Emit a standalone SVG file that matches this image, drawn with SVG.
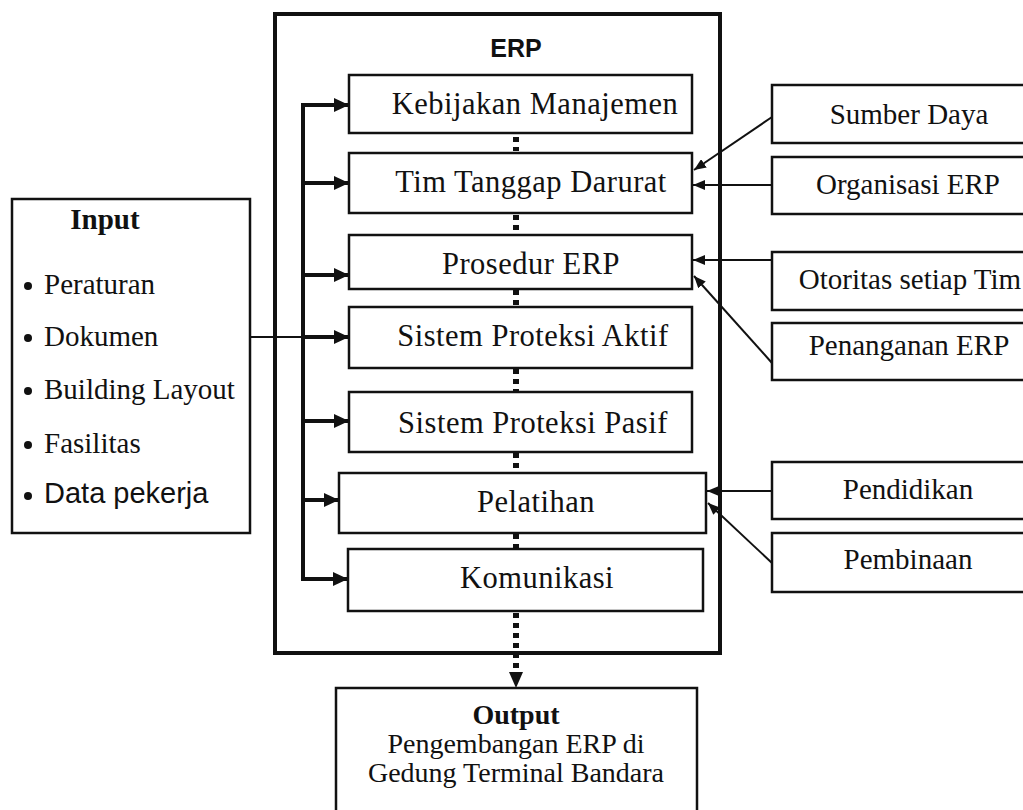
<svg xmlns="http://www.w3.org/2000/svg" width="1023" height="810" viewBox="0 0 1023 810">
  <style>
    .box { fill: #ffffff; stroke: #111111; stroke-width: 2.5; }
    .frame { fill: none; stroke: #111111; stroke-width: 4; }
    .t { font-family: "Liberation Serif", "Times New Roman", serif; font-size: 29px; fill: #111111; }
    .blk { font-size: 30.5px; letter-spacing: 0.5px; }
    .out { font-size: 28px; }
    .c { text-anchor: middle; }
    .b { font-weight: bold; }
    .sans { font-family: "Liberation Sans", Arial, sans-serif; }
    .bus { fill: none; stroke: #111111; stroke-width: 4; }
    .thin { fill: none; stroke: #111111; stroke-width: 2; }
    .dots { fill: none; stroke: #111111; stroke-width: 6; stroke-dasharray: 5 5; }
  </style>
  <defs>
    <marker id="headBig" markerUnits="userSpaceOnUse" markerWidth="15" markerHeight="14" refX="15" refY="7" orient="auto">
      <path d="M0,0 L15,7 L0,14 z" fill="#111111"/>
    </marker>
    <marker id="headSmall" markerUnits="userSpaceOnUse" markerWidth="12" markerHeight="10" refX="12" refY="5" orient="auto">
      <path d="M0,0 L12,5 L0,10 z" fill="#111111"/>
    </marker>
  </defs>

  <rect width="1023" height="810" fill="#ffffff"/>

  <!-- ERP frame -->
  <g id="erp">
    <rect class="frame" x="275" y="14" width="445" height="639"/>
    <text class="sans b c" x="516" y="57" font-size="25" fill="#111111">ERP</text>
  </g>

  <!-- dotted spine between the ERP blocks and down to the output -->
  <g id="connectors">
    <line class="dots" x1="516" y1="137" x2="516" y2="151"/>
    <line class="dots" x1="516" y1="215" x2="516" y2="233"/>
    <line class="dots" x1="516" y1="290" x2="516" y2="306"/>
    <line class="dots" x1="516" y1="369" x2="516" y2="391"/>
    <line class="dots" x1="516" y1="453" x2="516" y2="472"/>
    <line class="dots" x1="516" y1="534" x2="516" y2="548"/>
    <line class="dots" x1="516" y1="613" x2="516" y2="672"/>
    <polygon points="509,672 523,672 516,688" fill="#111111"/>

    <!-- input feed -->
    <line class="thin" x1="250" y1="337" x2="303" y2="337"/>

    <!-- distribution bus -->
    <line class="bus" x1="303" y1="105" x2="303" y2="579"/>
    <line class="bus" x1="301" y1="105" x2="349" y2="105" marker-end="url(#headBig)"/>
    <line class="bus" x1="303" y1="183" x2="349" y2="183" marker-end="url(#headBig)"/>
    <line class="bus" x1="303" y1="275" x2="349" y2="275" marker-end="url(#headBig)"/>
    <line class="bus" x1="303" y1="337" x2="349" y2="337" marker-end="url(#headBig)"/>
    <line class="bus" x1="303" y1="421" x2="349" y2="421" marker-end="url(#headBig)"/>
    <line class="bus" x1="303" y1="500" x2="339" y2="500" marker-end="url(#headBig)"/>
    <line class="bus" x1="301" y1="579" x2="348" y2="579" marker-end="url(#headBig)"/>

    <!-- side inputs -->
    <line class="thin" x1="772" y1="117" x2="694" y2="170" marker-end="url(#headSmall)"/>
    <line class="thin" x1="772" y1="185" x2="693" y2="185" marker-end="url(#headSmall)"/>
    <line class="thin" x1="772" y1="260" x2="693" y2="260" marker-end="url(#headSmall)"/>
    <line class="thin" x1="772" y1="363" x2="694" y2="276" marker-end="url(#headSmall)"/>
    <line class="thin" x1="772" y1="491" x2="707" y2="491" marker-end="url(#headSmall)"/>
    <line class="thin" x1="772" y1="563" x2="708" y2="503" marker-end="url(#headSmall)"/>
  </g>

  <!-- ERP blocks -->
  <g id="kebijakan">
    <rect class="box" x="349" y="75" width="343" height="58"/>
    <text class="t blk c" x="535" y="114">Kebijakan Manajemen</text>
  </g>
  <g id="tim-tanggap">
    <rect class="box" x="349" y="153" width="343" height="60"/>
    <text class="t blk c" x="531" y="192">Tim Tanggap Darurat</text>
  </g>
  <g id="prosedur">
    <rect class="box" x="349" y="235" width="343" height="54"/>
    <text class="t blk c" x="531" y="274">Prosedur ERP</text>
  </g>
  <g id="proteksi-aktif">
    <rect class="box" x="349" y="307" width="343" height="61"/>
    <text class="t blk c" x="533" y="346">Sistem Proteksi Aktif</text>
  </g>
  <g id="proteksi-pasif">
    <rect class="box" x="349" y="392" width="343" height="60"/>
    <text class="t blk c" x="533" y="433">Sistem Proteksi Pasif</text>
  </g>
  <g id="pelatihan">
    <rect class="box" x="339" y="473" width="367" height="60"/>
    <text class="t blk c" x="536" y="512">Pelatihan</text>
  </g>
  <g id="komunikasi">
    <rect class="box" x="348" y="549" width="355" height="62"/>
    <text class="t blk c" x="537" y="588">Komunikasi</text>
  </g>

  <!-- Input list -->
  <g id="input">
    <rect class="box" x="12" y="199" width="238" height="334"/>
    <text class="t b c" x="105" y="229" font-size="30">Input</text>
    <g fill="#111111">
      <circle cx="28" cy="286" r="4"/>
      <circle cx="28" cy="338" r="4"/>
      <circle cx="28" cy="391" r="4"/>
      <circle cx="28" cy="445" r="4"/>
      <circle cx="28" cy="496" r="4"/>
    </g>
    <text class="t" x="44" y="294">Peraturan</text>
    <text class="t" x="44" y="346">Dokumen</text>
    <text class="t" x="44" y="399">Building Layout</text>
    <text class="t" x="44" y="453">Fasilitas</text>
    <text class="t sans" x="44" y="503" font-size="23">Data pekerja</text>
  </g>

  <!-- side factors -->
  <g id="sumber-daya">
    <rect class="box" x="772" y="85" width="260" height="58"/>
    <text class="t c" x="909" y="124">Sumber Daya</text>
  </g>
  <g id="organisasi">
    <rect class="box" x="772" y="157" width="260" height="57"/>
    <text class="t c" x="908" y="194">Organisasi ERP</text>
  </g>
  <g id="otoritas">
    <rect class="box" x="772" y="252" width="260" height="58"/>
    <text class="t c" x="910" y="289">Otoritas setiap Tim</text>
  </g>
  <g id="penanganan">
    <rect class="box" x="772" y="323" width="260" height="57"/>
    <text class="t c" x="909" y="355">Penanganan ERP</text>
  </g>
  <g id="pendidikan">
    <rect class="box" x="772" y="462" width="260" height="57"/>
    <text class="t c" x="908" y="499">Pendidikan</text>
  </g>
  <g id="pembinaan">
    <rect class="box" x="772" y="533" width="260" height="59"/>
    <text class="t c" x="908" y="569">Pembinaan</text>
  </g>

  <!-- Output -->
  <g id="output">
    <rect class="box" x="336" y="688" width="361" height="130"/>
    <text class="t out b c" x="516" y="724">Output</text>
    <text class="t out c" x="516" y="753">Pengembangan ERP di</text>
    <text class="t out c" x="516" y="782">Gedung Terminal Bandara</text>
  </g>
</svg>
